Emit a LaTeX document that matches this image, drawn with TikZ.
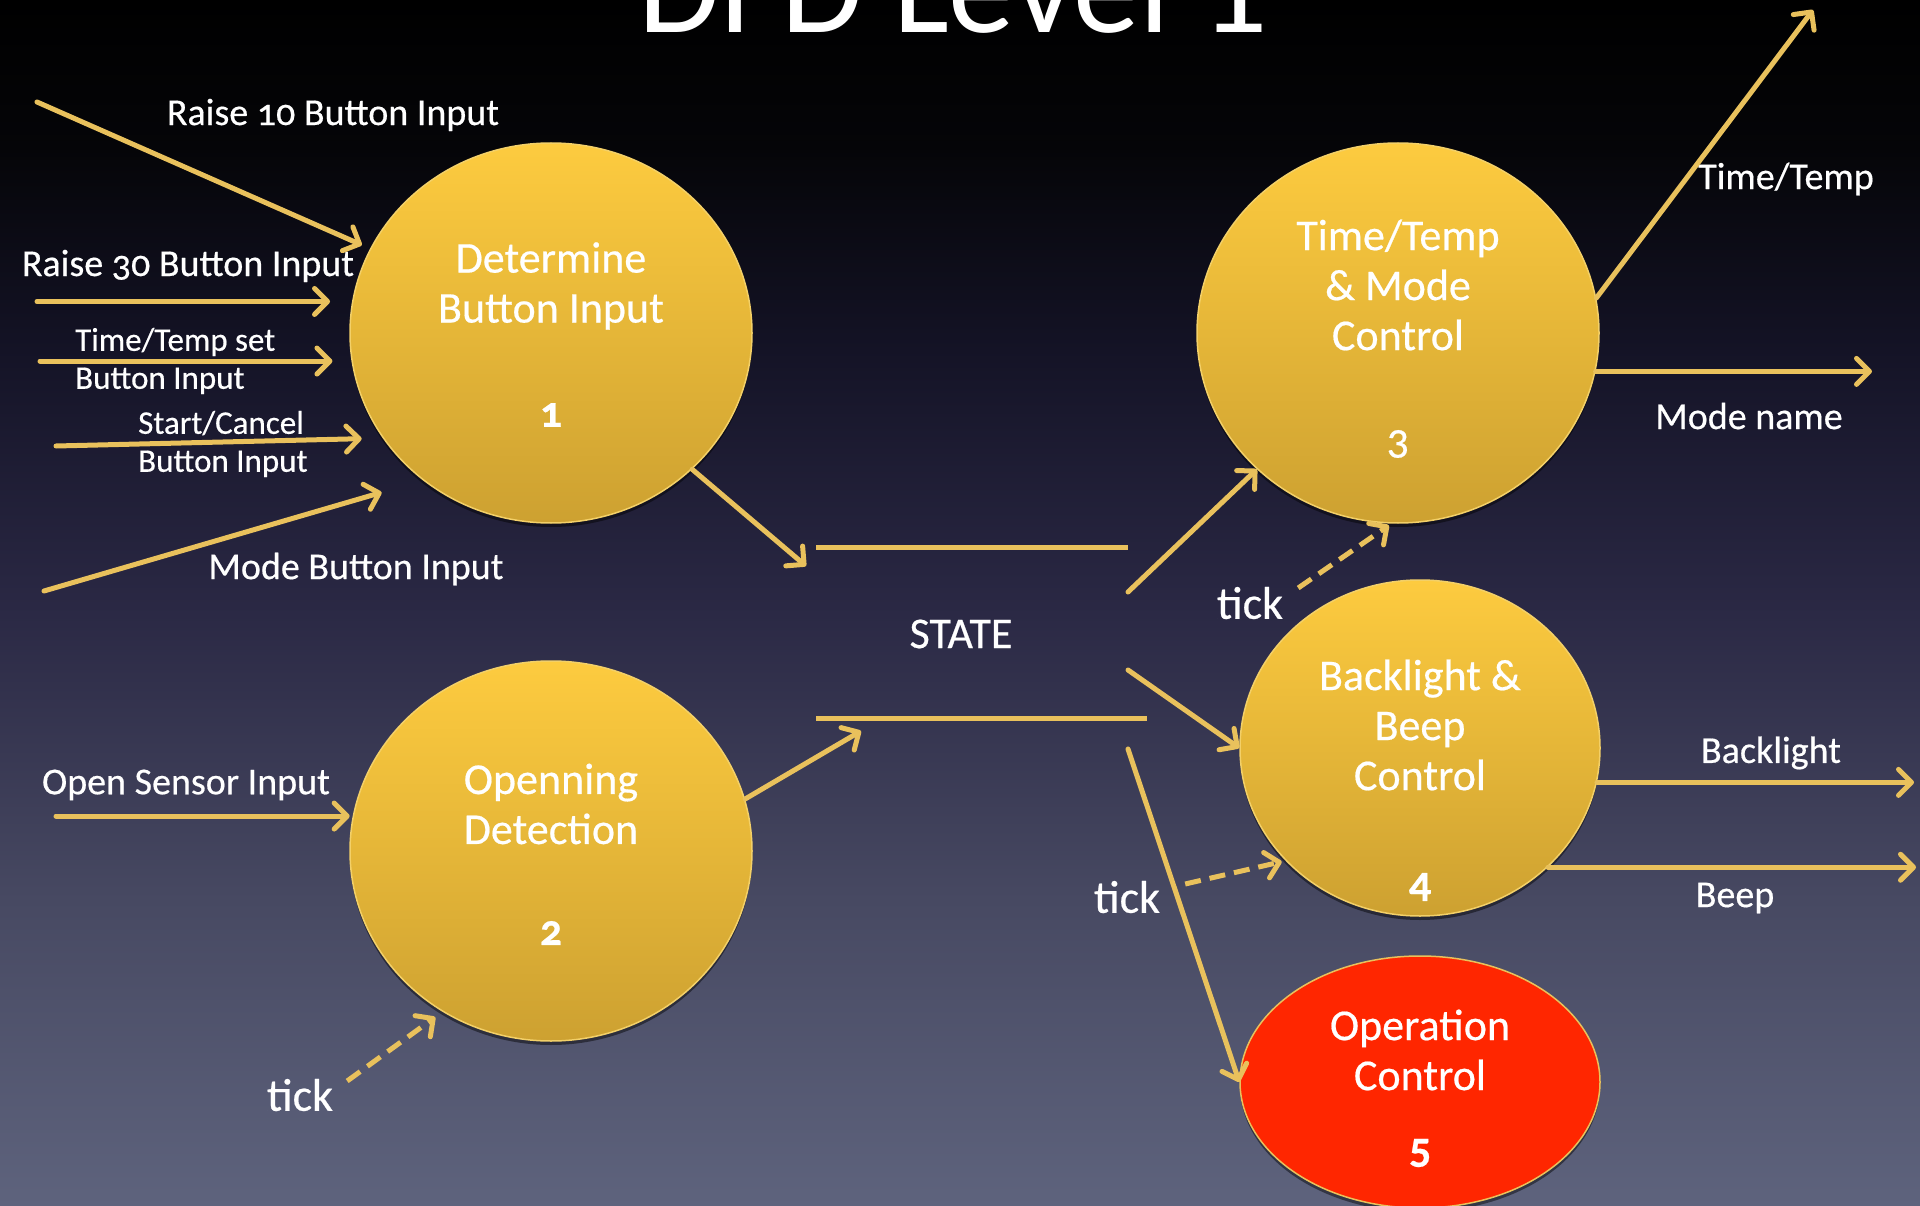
\documentclass[tikz,border=0pt]{standalone}
\usepackage{fontspec}
\setmainfont{Carlito}[Numbers=OldStyle, FakeBold=0.45]
\newfontfamily\titlefont{Carlito}
\usetikzlibrary{arrows.meta,shapes.geometric,calc,shadows}

\definecolor{flowc}{HTML}{E9C15C}
\definecolor{proctop}{HTML}{FDCB3F}
\definecolor{procbot}{HTML}{CDA131}
\definecolor{procedge}{HTML}{F3D068}
\definecolor{opfill}{HTML}{FF2600}
\definecolor{bgA}{HTML}{5E637D}
\definecolor{bgB}{HTML}{474962}
\definecolor{bgC}{HTML}{2A2844}
\definecolor{bgD}{HTML}{141326}
\definecolor{bgE}{HTML}{050508}
\definecolor{bgF}{HTML}{000000}

\pgfdeclareverticalshading{bgshade}{100bp}{%
  color(0bp)=(bgA); color(25bp)=(bgA); color(37.7bp)=(bgB);
  color(49.9bp)=(bgC); color(60.5bp)=(bgD); color(68.8bp)=(bgE);
  color(75bp)=(bgF); color(100bp)=(bgF)}

\tikzset{
  flow/.style={draw=flowc, line width=5pt, line cap=round,
    -{Straight Barb[length=13pt,width=26pt,round]}},
  tickflow/.style={flow, line cap=butt, dash pattern=on 16pt off 9pt},
  storeline/.style={draw=flowc, line width=5pt},
  procshadow/.style={drop shadow={shadow xshift=0pt, shadow yshift=-4pt,
    opacity=0.45, fill=black}},
  proc/.style={ellipse, inner sep=0pt, procshadow, top color=proctop,
    bottom color=procbot, draw=procedge, line width=1.5pt},
  opproc/.style={ellipse, inner sep=0pt, procshadow, fill=opfill, draw=flowc,
    line width=1.5pt},
  ctext/.style={text=white, align=center, inner sep=0pt,
    font=\fontsize{44}{50}\selectfont},
  cnum/.style={text=white, inner sep=0pt, font=\fontsize{44}{50}\selectfont},
  bnum/.style={text=white, inner sep=0pt, font=\fontsize{44}{50}\selectfont\bfseries},
  lbl/.style={text=white, inner sep=0pt, font=\fontsize{38}{40}\selectfont},
  smalllbl/.style={text=white, inner sep=0pt, align=left,
    font=\fontsize{33}{38}\selectfont},
  ticklbl/.style={text=white, inner sep=0pt, font=\fontsize{46}{50}\selectfont},
}

\begin{document}
\begin{tikzpicture}[x=1pt, y=-1pt]
  % page and background
  \useasboundingbox (0,0) rectangle (1920,1206);
  \clip (0,0) rectangle (1920,1206);
  \shade[shading=bgshade] (0,0) rectangle (1920,1206);

  % title
  \node[text=white, anchor=base, inner sep=0pt,
    font=\titlefont\fontsize{133}{140}\selectfont]
    (title) at (953,33) {DFD Level 1};

  % processes
  \node[proc, minimum width=402pt, minimum height=380pt] (c1) at (551,333) {};
  \node[proc, minimum width=402pt, minimum height=380pt] (c2) at (551,851) {};
  \node[proc, minimum width=402pt, minimum height=380pt] (c3) at (1398,333) {};
  \node[proc, minimum width=360pt, minimum height=336pt] (c4) at (1420,748) {};
  \node[opproc, minimum width=360pt, minimum height=252pt] (c5) at (1420,1082) {};

  \node[ctext] (c1t) at (551,286) {Determine\\Button Input};
  \node[bnum] (c1n) at (551,415) {1};
  \node[ctext] (c2t) at (551,804) {Openning\\Detection};
  \node[bnum] (c2n) at (551,933) {2};
  \node[ctext] (c3t) at (1398,285) {Time/Temp\\\& Mode\\Control};
  \node[cnum] (c3n) at (1398,444) {3};
  \node[ctext] (c4t) at (1420,725) {Backlight \&\\Beep\\Control};
  \node[bnum] (c4n) at (1420,887) {4};
  \node[ctext] (c5t) at (1420,1050) {Operation\\Control};
  \node[bnum] (c5n) at (1420,1153) {5};

  % data store
  \coordinate (stTL) at (816,547);
  \coordinate (stTR) at (1128,547);
  \coordinate (stBL) at (816,718);
  \coordinate (stBR) at (1147,718);
  \draw[storeline] (stTL) -- (stTR);
  \draw[storeline] (stBL) -- (stBR);
  \node[text=white, inner sep=0pt, font=\fontsize{44}{50}\selectfont] (state) at (961,634) {STATE};

  % input labels
  \node[lbl] (r10) at (333,115) {Raise 10 Button Input};
  \node[lbl] (r30) at (188,266) {Raise 30 Button Input};
  \node[smalllbl, anchor=west] (tts) at (75,361) {Time/Temp set\\Button Input};
  \node[smalllbl, anchor=west] (sc) at (138,444) {Start/Cancel\\Button Input};
  \node[lbl] (mode) at (356,569) {Mode Button Input};
  \node[lbl] (open) at (186,785) {Open Sensor Input};

  % output labels
  \node[lbl] (ttlbl) at (1786,179) {Time/Temp};
  \node[lbl] (mnlbl) at (1749,416) {Mode name};
  \node[lbl] (bllbl) at (1771,753) {Backlight};
  \node[lbl] (bplbl) at (1735,898) {Beep};

  % clock labels
  \node[ticklbl] (tick2) at (300,1095) {tick};
  \node[ticklbl] (tick3) at (1250,603) {tick};
  \node[ticklbl] (tick4) at (1127,897) {tick};

  % free ends
  \coordinate (in10) at (37,102);
  \coordinate (in30) at (37,300);
  \coordinate (intt) at (40,361);
  \coordinate (insc) at (56,446);
  \coordinate (inmd) at (44,591);
  \coordinate (inos) at (56,817);
  \coordinate (st1in) at (806,566);
  \coordinate (st2in) at (861,731);
  \coordinate (st3out) at (1128,592);
  \coordinate (st4out) at (1128,670);
  \coordinate (st5out) at (1128,749);
  \coordinate (ttout) at (1813,10);
  \coordinate (mnout) at (1872,374);
  \coordinate (blout) at (1914,781);
  \coordinate (bpout) at (1916,866);

  % inputs to process 1
  \draw[flow, shorten >=9pt] (in10) -- (c1.155);
  \draw[flow, shorten >=22pt] (c1.171 -| in30) -- (c1.171);
  \draw[flow, shorten >=19pt] (c1.-172 -| intt) -- (c1.-172);
  \draw[flow, shorten >=21pt] (insc) -- (c1.-148);
  \draw[flow, shorten >=43pt] (inmd) -- (c1.-131);

  % input to process 2
  \draw[flow, shorten >=3pt] (c2.170 -| inos) -- (c2.170);

  % into and out of the store
  \draw[flow] (c1.-44) -- (st1in);
  \draw[flow] (c2.15) -- (st2in);
  \draw[flow] (st3out) -- (c3.-136);
  \draw[flow] (st4out) -- (c4.180);
  \draw[flow] (st5out) -- (c5.180);

  % clock ticks
  \draw[tickflow, shorten >=9pt] ([shift={(14pt,14pt)}]tick2.east) -- (c2.-124);
  \draw[tickflow, shorten >=3pt] ([shift={(15pt,15pt)}]tick3.east) -- (c3.-92);
  \draw[tickflow, shorten >=4pt] ([shift={(25pt,13pt)}]tick4.east) -- (c4.-140);

  % outputs
  \draw[flow] (c3.10) -- (ttout);
  \draw[flow] (c3.-11) -- (c3.-11 -| mnout);
  \draw[flow] (c4.-11) -- (c4.-11 -| blout);
  \draw[flow] (c4.-43) -- (c4.-43 -| bpout);
\end{tikzpicture}
\end{document}
